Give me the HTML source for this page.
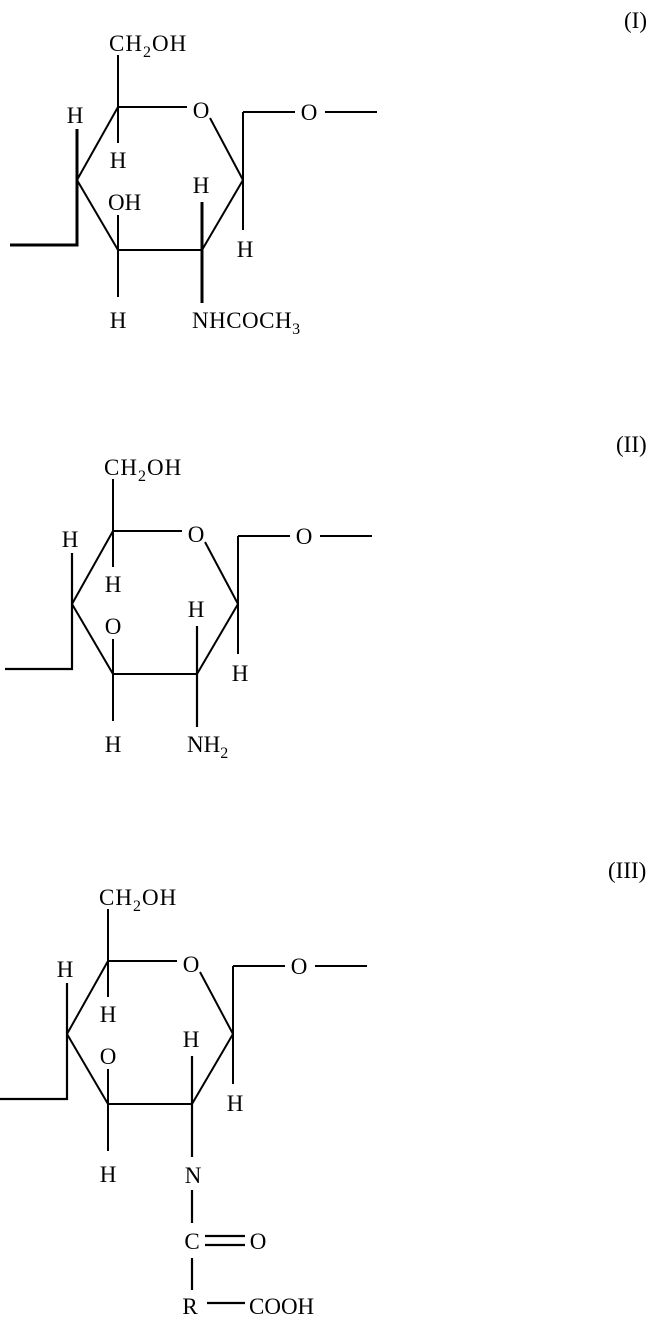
<!DOCTYPE html>
<html><head><meta charset="utf-8"><style>
html,body{margin:0;padding:0;background:#fff;}
svg{display:block;}
text{font-family:"Liberation Serif",serif;font-size:23px;fill:#000;}
.m{text-anchor:middle;}
</style></head><body>
<svg width="658" height="1318" viewBox="0 0 658 1318" xmlns="http://www.w3.org/2000/svg">
<defs>
<g id="ring" stroke="#000" stroke-width="2" fill="none">
  <line x1="118" y1="55" x2="118" y2="107"/>
  <line x1="118" y1="107" x2="187" y2="107"/>
  <line x1="210" y1="118" x2="243" y2="180"/>
  <line x1="243" y1="180" x2="202" y2="250"/>
  <line x1="202" y1="250" x2="118" y2="250"/>
  <line x1="118" y1="250" x2="77" y2="180"/>
  <line x1="77" y1="180" x2="118" y2="107"/>
  <line x1="118" y1="107" x2="118" y2="143"/>
  <line x1="243" y1="180" x2="243" y2="112"/>
  <line x1="243" y1="112" x2="295" y2="112"/>
  <line x1="325" y1="112" x2="377" y2="112"/>
  <line x1="243" y1="180" x2="243" y2="230"/>
  <line x1="118" y1="215" x2="118" y2="250"/>
  <line x1="118" y1="250" x2="118" y2="297"/>
</g>
<g id="labels">
  <text x="109" y="51" letter-spacing="1">CH<tspan font-size="16" dy="6">2</tspan><tspan dy="-6">OH</tspan></text>
  <text class="m" x="201" y="118">O</text>
  <text class="m" x="309" y="120">O</text>
  <text class="m" x="75" y="123">H</text>
  <text class="m" x="118" y="168">H</text>
  <text class="m" x="245" y="257">H</text>
  <text class="m" x="118" y="328">H</text>
</g>
</defs>

<!-- I -->
<text x="624" y="28">(I)</text>
<use href="#ring"/>
<use href="#labels"/>
<g stroke="#000" stroke-width="3" fill="none">
  <polyline points="77,129 77,245 10,245"/>
  <line x1="202" y1="202" x2="202" y2="303"/>
</g>
<text x="108" y="210">OH</text>
<text class="m" x="201" y="193">H</text>
<text x="192" y="328" letter-spacing="0.5">NHCOCH<tspan font-size="16" dy="6">3</tspan></text>

<!-- II -->
<g transform="translate(-5,424)">
  <use href="#ring"/>
  <use href="#labels"/>
  <g stroke="#000" stroke-width="2.2" fill="none">
    <polyline points="77,129 77,245 10,245"/>
    <line x1="202" y1="202" x2="202" y2="303"/>
  </g>
  <text class="m" x="118" y="210">O</text>
  <text class="m" x="201" y="193">H</text>
  <text x="192" y="328">NH<tspan font-size="16" dy="6">2</tspan></text>
</g>
<text x="616" y="452">(II)</text>

<!-- III -->
<g transform="translate(-10,854)">
  <use href="#ring"/>
  <use href="#labels"/>
  <g stroke="#000" stroke-width="2.2" fill="none">
    <polyline points="77,129 77,245 8,245"/>
    <line x1="202" y1="202" x2="202" y2="303"/>
  </g>
  <text class="m" x="118" y="210">O</text>
  <text class="m" x="201" y="193">H</text>
</g>
<text x="608" y="878">(III)</text>
<text class="m" x="193" y="1183">N</text>
<g stroke="#000" stroke-width="2.2">
  <line x1="192" y1="1190" x2="192" y2="1223"/>
  <line x1="205" y1="1236" x2="245" y2="1236"/>
  <line x1="205" y1="1245" x2="245" y2="1245"/>
  <line x1="192" y1="1258" x2="192" y2="1290"/>
  <line x1="207" y1="1303" x2="245" y2="1303"/>
</g>
<text class="m" x="192" y="1249">C</text>
<text class="m" x="258" y="1249">O</text>
<text class="m" x="190" y="1314">R</text>
<text x="249" y="1314">COOH</text>
</svg>
</body></html>
